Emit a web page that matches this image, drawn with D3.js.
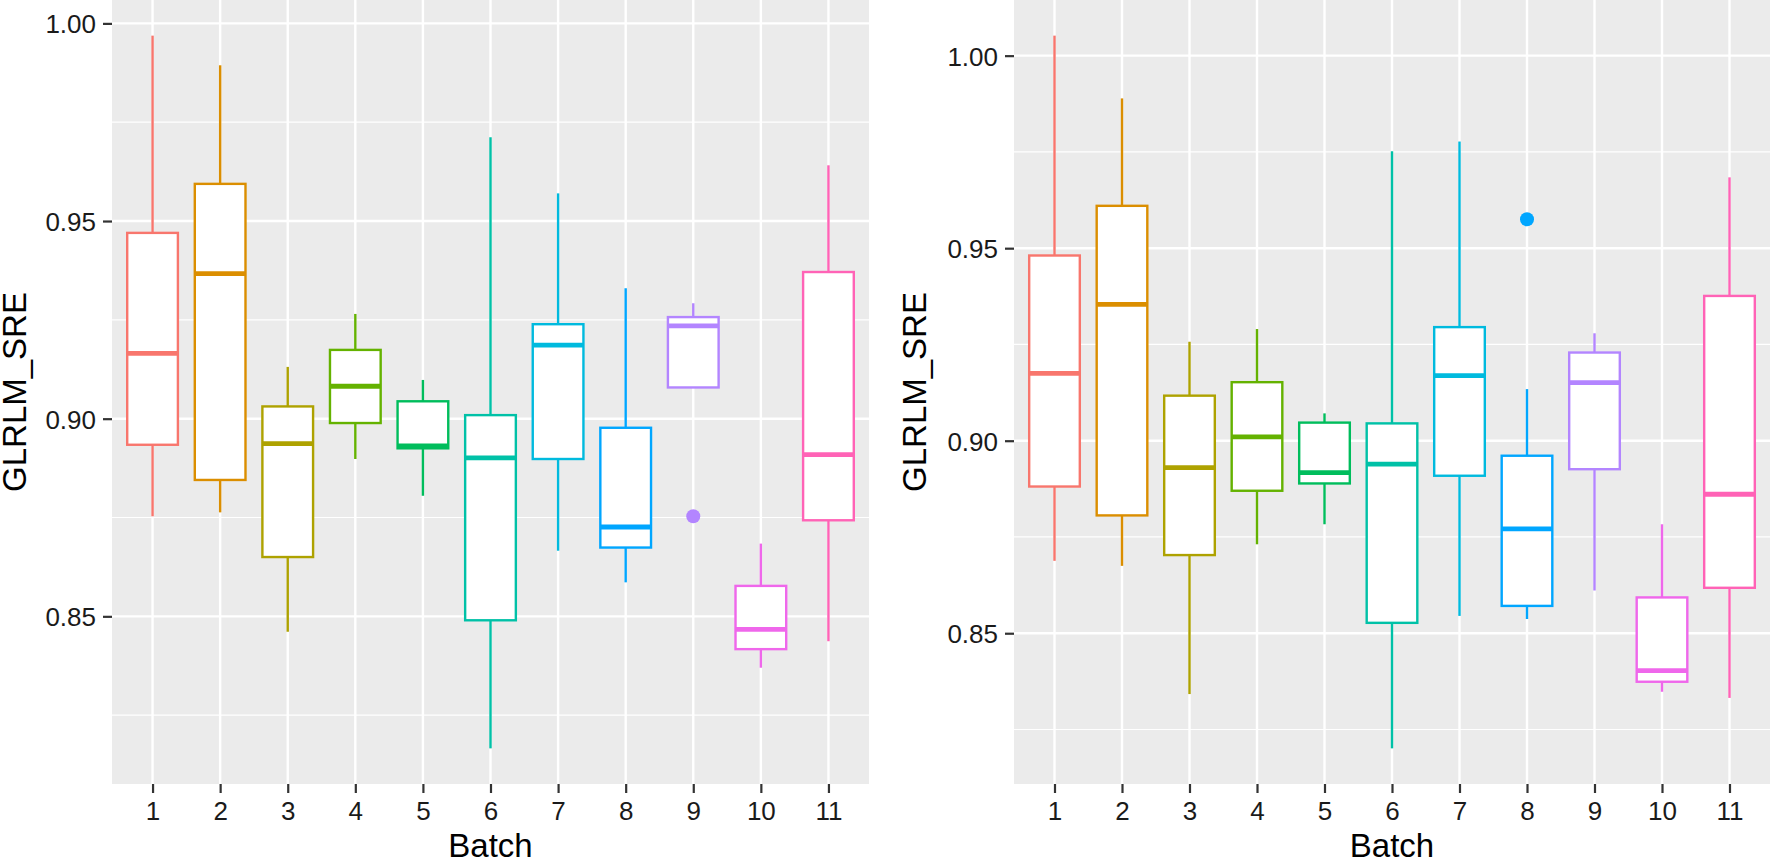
<!DOCTYPE html>
<html>
<head>
<meta charset="utf-8">
<script src="https://cdn.jsdelivr.net/npm/d3@7"></script>
<style>
  body { margin: 0; background: #fff; }
  svg text { font-family: "Liberation Sans", Arial, Helvetica, sans-serif; }
</style>
</head>
<body>
<div id="chart"></div>
<script>
// batches and ggplot hue colours
var batches = ["1", "2", "3", "4", "5", "6", "7", "8", "9", "10", "11"];
var colors = ["#F8766D", "#DB8E00", "#AEA200", "#64B200", "#00BD5C", "#00C1A7",
              "#00BADE", "#00A6FF", "#B385FF", "#EF67EB", "#FF63B6"];

// left panel
var leftLow  = [0.8753, 0.8763, 0.8461, 0.8898, 0.8805, 0.8166, 0.8666, 0.8586, 0.9079, 0.8370, 0.8437];
var leftQ1   = [0.8934, 0.8845, 0.8650, 0.8989, 0.8925, 0.8490, 0.8898, 0.8674, 0.9079, 0.8417, 0.8743];
var leftMed  = [0.9165, 0.9367, 0.8937, 0.9082, 0.8931, 0.8901, 0.9186, 0.8726, 0.9235, 0.8467, 0.8909];
var leftQ3   = [0.9470, 0.9594, 0.9031, 0.9174, 0.9044, 0.9009, 0.9239, 0.8977, 0.9257, 0.8577, 0.9371];
var leftHigh = [0.9969, 0.9894, 0.9131, 0.9265, 0.9098, 0.9712, 0.9570, 0.9330, 0.9292, 0.8684, 0.9641];
var leftOutliers = [{batch: "9", value: 0.8753}];

// right panel
var rightLow  = [0.8688, 0.8675, 0.8342, 0.8731, 0.8783, 0.8201, 0.8545, 0.8537, 0.8611, 0.8348, 0.8332];
var rightQ1   = [0.8881, 0.8806, 0.8703, 0.8870, 0.8889, 0.8527, 0.8909, 0.8571, 0.8926, 0.8374, 0.8618];
var rightMed  = [0.9175, 0.9354, 0.8930, 0.9010, 0.8917, 0.8939, 0.9169, 0.8771, 0.9151, 0.8403, 0.8861];
var rightQ3   = [0.9481, 0.9610, 0.9117, 0.9152, 0.9047, 0.9045, 0.9295, 0.8961, 0.9229, 0.8593, 0.9376];
var rightHigh = [1.0052, 0.9889, 0.9257, 0.9290, 0.9071, 0.9752, 0.9777, 0.9134, 0.9279, 0.8783, 0.9684];
var rightOutliers = [{batch: "8", value: 0.9575}];

var majorTicks = [0.85, 0.90, 0.95, 1.00];
var minorTicks = [0.825, 0.875, 0.925, 0.975];

var W = 1770, H = 861;
var svg = d3.select("#chart").append("svg")
    .attr("width", W)
    .attr("height", H);

function drawPanel(opt) {
    var rows = batches.map(function(b, i) {
        return {batch: b, color: colors[i], low: opt.low[i], q1: opt.q1[i],
                med: opt.med[i], q3: opt.q3[i], high: opt.high[i]};
    });

    // ggplot style 5% expansion of the data range
    var all = opt.low.concat(opt.high).concat(opt.outliers.map(function(d){ return d.value; }));
    var ext = d3.extent(all);
    var pad = (ext[1] - ext[0]) * 0.05;

    var x = d3.scalePoint()
        .domain(batches)
        .range([opt.left, opt.right])
        .padding(0.6);

    var y = d3.scaleLinear()
        .domain([ext[0] - pad, ext[1] + pad])
        .range([opt.bottom, opt.top]);

    var inside = function(d){ return d > y.domain()[0] && d < y.domain()[1]; };

    var g = svg.append("g");
    var boxW = x.step() * 0.75;

    // panel background
    g.append("rect")
        .attr("x", opt.left).attr("y", opt.top)
        .attr("width", opt.right - opt.left)
        .attr("height", opt.bottom - opt.top)
        .attr("fill", "#EBEBEB");

    // minor grid
    g.selectAll(".minor")
        .data(minorTicks.filter(inside))
        .enter().append("line")
        .attr("x1", opt.left).attr("x2", opt.right)
        .attr("y1", function(d){ return y(d); })
        .attr("y2", function(d){ return y(d); })
        .attr("stroke", "#fff").attr("stroke-width", 1.2);

    // major grid
    g.selectAll(".majorY")
        .data(majorTicks.filter(inside))
        .enter().append("line")
        .attr("x1", opt.left).attr("x2", opt.right)
        .attr("y1", function(d){ return y(d); })
        .attr("y2", function(d){ return y(d); })
        .attr("stroke", "#fff").attr("stroke-width", 2.4);

    g.selectAll(".majorX")
        .data(batches)
        .enter().append("line")
        .attr("x1", function(d){ return x(d); })
        .attr("x2", function(d){ return x(d); })
        .attr("y1", opt.top).attr("y2", opt.bottom)
        .attr("stroke", "#fff").attr("stroke-width", 2.4);

    // boxes
    var box = g.selectAll(".box").data(rows).enter().append("g");

    box.append("line")
        .attr("x1", function(d){ return x(d.batch); })
        .attr("x2", function(d){ return x(d.batch); })
        .attr("y1", function(d){ return y(d.high); })
        .attr("y2", function(d){ return y(d.q3); })
        .attr("stroke", function(d){ return d.color; })
        .attr("stroke-width", 2.4);

    box.append("line")
        .attr("x1", function(d){ return x(d.batch); })
        .attr("x2", function(d){ return x(d.batch); })
        .attr("y1", function(d){ return y(d.q1); })
        .attr("y2", function(d){ return y(d.low); })
        .attr("stroke", function(d){ return d.color; })
        .attr("stroke-width", 2.4);

    box.append("rect")
        .attr("x", function(d){ return x(d.batch) - boxW / 2; })
        .attr("y", function(d){ return y(d.q3); })
        .attr("width", boxW)
        .attr("height", function(d){ return y(d.q1) - y(d.q3); })
        .attr("fill", "#fff")
        .attr("stroke", function(d){ return d.color; })
        .attr("stroke-width", 2.4);

    box.append("line")
        .attr("x1", function(d){ return x(d.batch) - boxW / 2; })
        .attr("x2", function(d){ return x(d.batch) + boxW / 2; })
        .attr("y1", function(d){ return y(d.med); })
        .attr("y2", function(d){ return y(d.med); })
        .attr("stroke", function(d){ return d.color; })
        .attr("stroke-width", 4.8);

    g.selectAll(".outlier")
        .data(opt.outliers)
        .enter().append("circle")
        .attr("cx", function(d){ return x(d.batch); })
        .attr("cy", function(d){ return y(d.value); })
        .attr("r", 7)
        .attr("fill", function(d){ return colors[batches.indexOf(d.batch)]; });

    // axes
    var yAxis = d3.axisLeft(y)
        .tickValues(majorTicks.filter(inside))
        .tickFormat(d3.format(".2f"))
        .tickSize(9)
        .tickPadding(7);

    var yg = g.append("g")
        .attr("transform", "translate(" + opt.left + ",0)")
        .call(yAxis);

    var xAxis = d3.axisBottom(x)
        .tickSize(9)
        .tickPadding(6);

    var xg = g.append("g")
        .attr("transform", "translate(0," + opt.bottom + ")")
        .call(xAxis);

    [yg, xg].forEach(function(a) {
        a.select(".domain").remove();
        a.selectAll(".tick line").attr("stroke", "#333").attr("stroke-width", 2.2);
        a.selectAll(".tick text").attr("fill", "#1a1a1a").attr("font-size", "26px");
    });
    yg.selectAll(".tick text").attr("dy", "0.36em");
    xg.selectAll(".tick text").attr("dy", "0").attr("y", 36);

    // titles
    g.append("text")
        .attr("x", (opt.left + opt.right) / 2)
        .attr("y", 857)
        .attr("text-anchor", "middle")
        .attr("font-size", "33px")
        .attr("fill", "#000")
        .text("Batch");

    g.append("text")
        .attr("transform", "translate(" + opt.titleX + "," + ((opt.top + opt.bottom) / 2) + ") rotate(-90)")
        .attr("text-anchor", "middle")
        .attr("font-size", "33px")
        .attr("fill", "#000")
        .text("GLRLM_SRE");
}

drawPanel({left: 112, right: 869, top: 0, bottom: 784, titleX: 26,
           low: leftLow, q1: leftQ1, med: leftMed, q3: leftQ3, high: leftHigh, outliers: leftOutliers});

drawPanel({left: 1014, right: 1770, top: 0, bottom: 784, titleX: 926,
           low: rightLow, q1: rightQ1, med: rightMed, q3: rightQ3, high: rightHigh, outliers: rightOutliers});
</script>
</body>
</html>
